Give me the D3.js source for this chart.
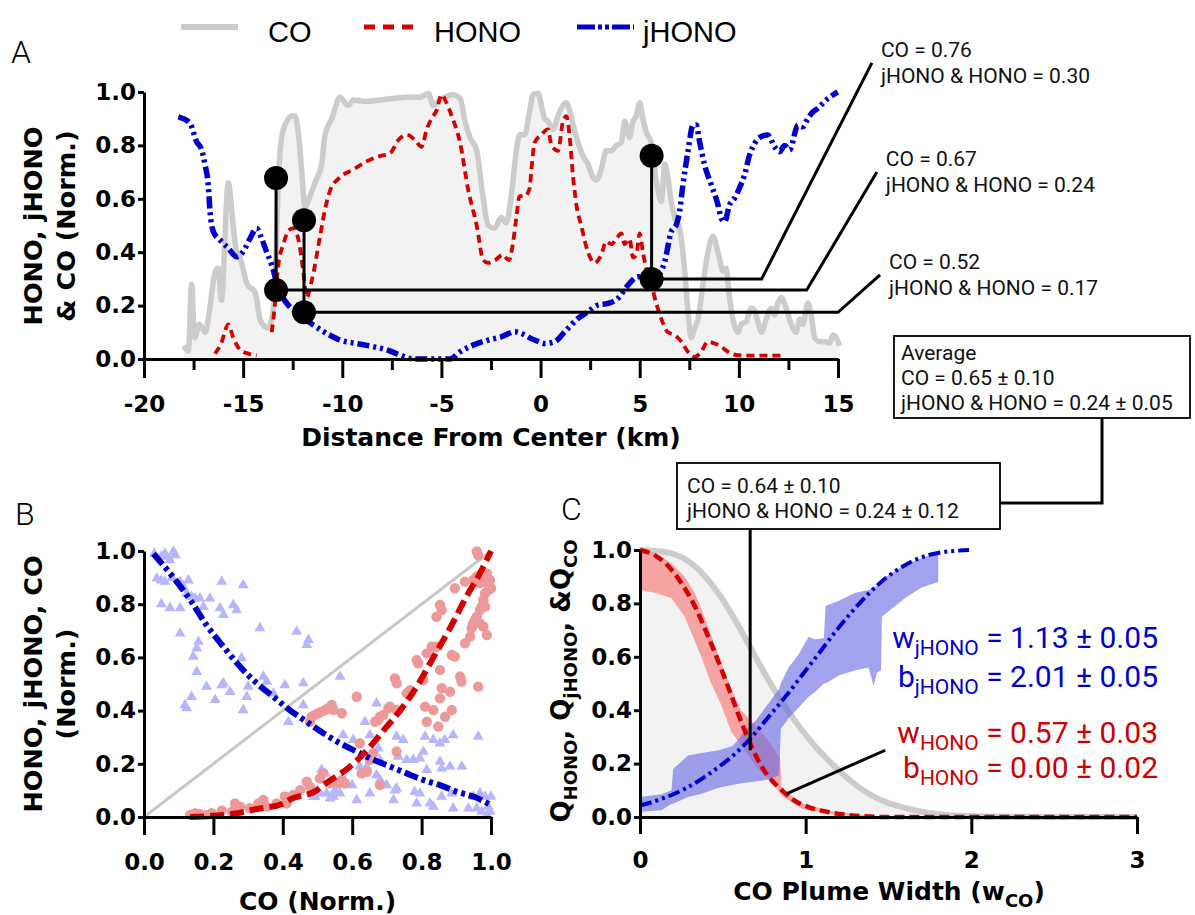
<!DOCTYPE html>
<html>
<head>
<meta charset="utf-8">
<script src="https://cdn.jsdelivr.net/npm/d3@7"></script>
<style>
  body { margin: 0; background: #fff; }
  svg { display: block; }
</style>
</head>
<body>
<svg id="fig" width="1195" height="915"></svg>
<script>
// ---- Panel A: transect (km, normalised value) ----
const coA = [[-18.0,0.05],[-17.76,0.03],[-17.6,0.28],[-17.45,0.08],[-17.2,0.13],[-16.9,0.10],[-16.7,0.18],[-16.4,0.33],[-16.25,0.34],[-16.1,0.22],[-15.75,0.66],[-15.5,0.50],[-15.33,0.40],[-15.16,0.38],[-14.8,0.28],[-14.4,0.25],[-14.15,0.15],[-13.9,0.12],[-13.73,0.115],[-13.56,0.15],[-13.39,0.28],[-13.23,0.65],[-13.06,0.83],[-12.8,0.89],[-12.55,0.91],[-12.38,0.91],[-12.22,0.85],[-12.05,0.71],[-11.88,0.57],[-11.63,0.61],[-11.38,0.66],[-11.04,0.73],[-10.87,0.84],[-10.53,0.90],[-10.12,0.98],[-9.7,0.95],[-9.44,0.97],[-8.77,0.965],[-8.1,0.97],[-7.43,0.976],[-6.75,0.98],[-6.08,0.98],[-5.66,0.995],[-5.41,0.95],[-5.07,0.97],[-4.4,0.99],[-4.06,0.976],[-3.81,0.89],[-3.56,0.83],[-3.22,0.78],[-2.89,0.60],[-2.64,0.50],[-2.32,0.49],[-1.98,0.53],[-1.73,0.51],[-1.48,0.61],[-1.22,0.78],[-1.06,0.84],[-0.8,0.84],[-0.55,0.93],[-0.38,0.99],[-0.13,0.995],[0.04,0.95],[0.21,0.90],[0.37,0.89],[0.63,0.86],[0.88,0.91],[1.13,0.95],[1.3,0.96],[1.47,0.93],[1.63,0.88],[1.89,0.81],[2.14,0.76],[2.39,0.73],[2.64,0.68],[2.81,0.67],[3.06,0.71],[3.31,0.78],[3.57,0.78],[3.82,0.80],[4.07,0.81],[4.24,0.89],[4.49,0.83],[4.66,0.89],[4.83,0.91],[5.0,0.96],[5.16,0.90],[5.33,0.85],[5.58,0.81],[5.75,0.71],[5.92,0.63],[6.09,0.59],[6.26,0.73],[6.42,0.68],[6.59,0.59],[6.76,0.53],[7.01,0.49],[7.27,0.33],[7.43,0.18],[7.6,0.08],[7.77,0.115],[7.94,0.15],[8.19,0.28],[8.44,0.40],[8.69,0.46],[8.95,0.40],[9.2,0.33],[9.36,0.34],[9.53,0.23],[9.7,0.15],[9.95,0.10],[10.12,0.13],[10.37,0.14],[10.63,0.19],[10.8,0.18],[10.96,0.14],[11.13,0.10],[11.38,0.15],[11.63,0.19],[11.8,0.165],[11.97,0.21],[12.14,0.23],[12.39,0.19],[12.64,0.13],[12.89,0.10],[13.07,0.15],[13.23,0.13],[13.48,0.21],[13.65,0.165],[13.82,0.08],[14.07,0.065],[14.33,0.065],[14.58,0.06],[14.74,0.09],[14.91,0.08],[15.08,0.05]];

// null marks the data gap
const honoA = [[-16.42,0.02],[-16.1,0.06],[-15.75,0.13],[-15.5,0.08],[-15.16,0.035],[-14.74,0.02],[-14.32,0.013],null,[-13.56,0.10],[-13.39,0.21],[-13.23,0.35],[-12.97,0.43],[-12.72,0.48],[-12.47,0.49],[-12.22,0.45],[-11.97,0.33],[-11.8,0.23],[-11.55,0.29],[-11.12,0.46],[-10.87,0.56],[-10.62,0.63],[-10.12,0.68],[-9.44,0.71],[-8.77,0.74],[-8.1,0.76],[-7.6,0.77],[-7.17,0.82],[-6.75,0.84],[-6.33,0.82],[-6.0,0.795],[-5.74,0.86],[-5.5,0.90],[-5.25,0.93],[-4.99,0.99],[-4.75,0.96],[-4.48,0.91],[-4.06,0.81],[-3.64,0.63],[-3.22,0.50],[-2.89,0.37],[-2.65,0.36],[-2.3,0.37],[-1.9,0.39],[-1.6,0.37],[-1.4,0.43],[-1.22,0.53],[-1.06,0.61],[-0.8,0.61],[-0.55,0.64],[-0.46,0.71],[-0.3,0.81],[0.04,0.84],[0.37,0.86],[0.55,0.80],[0.88,0.78],[1.13,0.89],[1.30,0.91],[1.47,0.83],[1.63,0.69],[1.8,0.58],[2.05,0.50],[2.39,0.40],[2.73,0.36],[3.06,0.39],[3.31,0.44],[3.57,0.43],[3.82,0.45],[4.07,0.47],[4.24,0.43],[4.49,0.45],[4.66,0.38],[4.83,0.39],[5.0,0.47],[5.16,0.40],[5.33,0.34],[5.58,0.28],[5.83,0.21],[6.09,0.15],[6.42,0.10],[6.76,0.09],[7.1,0.065],[7.43,0.027],[7.77,0.008],[8.1,0.027],[8.44,0.065],[8.78,0.058],[9.11,0.046],[9.45,0.027],[9.87,0.015],[10.46,0.013],[11.13,0.013],[12.14,0.013]];

const jhonoA = [[-18.27,0.907],[-17.68,0.883],[-17.35,0.814],[-17.09,0.783],[-16.92,0.727],[-16.76,0.652],[-16.67,0.552],[-16.5,0.477],[-16.17,0.446],[-15.75,0.415],[-15.33,0.383],[-15.0,0.402],[-14.65,0.452],[-14.32,0.489],[-14.07,0.452],[-13.81,0.40],[-13.56,0.352],[-13.31,0.289],[-12.97,0.227],[-12.64,0.195],[-12.13,0.164],[-11.46,0.127],[-10.79,0.096],[-10.12,0.071],[-9.28,0.058],[-8.44,0.046],[-7.76,0.034],[-7.09,0.015],[-6.42,0],[-5.41,0],[-4.57,0],[-4.06,0.027],[-3.4,0.052],[-2.64,0.071],[-1.98,0.083],[-1.3,0.102],[-0.3,0.071],[0.21,0.058],[0.71,0.065],[1.22,0.102],[1.89,0.152],[2.39,0.177],[2.89,0.202],[3.4,0.208],[3.9,0.227],[4.41,0.277],[4.91,0.308],[5.42,0.302],[5.92,0.314],[6.26,0.364],[6.59,0.477],[6.84,0.502],[7.01,0.552],[7.18,0.652],[7.43,0.776],[7.69,0.876],[7.85,0.876],[8.02,0.814],[8.27,0.727],[8.61,0.652],[8.95,0.577],[9.11,0.527],[9.28,0.514],[9.53,0.577],[9.78,0.602],[10.03,0.64],[10.29,0.69],[10.54,0.764],[10.8,0.808],[11.13,0.833],[11.46,0.839],[11.8,0.795],[12.05,0.776],[12.31,0.80],[12.56,0.783],[12.98,0.876],[13.23,0.870],[13.48,0.901],[13.74,0.926],[13.99,0.939],[14.24,0.958],[14.5,0.976],[14.74,0.989],[14.99,1.0]];

// sampled points: km, CO value, jHONO & HONO value
const sampleKm = [-13.34, -11.93, 5.6];
const sampleCO = [0.678, 0.52, 0.761];
const sampleJ = [0.258, 0.175, 0.30];

// callouts, top to bottom: which sample, bend km, end of leader (km, value)
const calloutSample = [2, 0, 1];
const calloutBend = [11.15, 13.42, 15.0];
const calloutEnd = [[16.71, 1.109], [16.96, 0.70], [17.12, 0.315]];
const calloutCO = ["0.76", "0.67", "0.52"];
const calloutJ = ["0.30", "0.24", "0.17"];

const avgLines = ["Average", "CO = 0.65 \u00b1 0.10", "jHONO & HONO = 0.24 \u00b1 0.05"];
const fitLines = ["CO = 0.64 \u00b1 0.10", "jHONO & HONO = 0.24 \u00b1 0.12"];

// ---- Panel B: scatter vs CO ----
const jhonoPts = [[0.03,0.99],[0.05,0.98],[0.06,0.99],[0.065,0.98],[0.075,0.966],[0.085,0.998],[0.09,0.985],[0.037,0.897],[0.05,0.89],[0.06,0.885],[0.08,0.90],[0.104,0.885],[0.128,0.89],[0.113,0.866],[0.123,0.84],[0.137,0.828],[0.147,0.822],[0.161,0.822],[0.19,0.822],[0.05,0.80],[0.075,0.785],[0.104,0.785],[0.171,0.79],[0.224,0.885],[0.286,0.872],[0.219,0.785],[0.229,0.76],[0.257,0.797],[0.267,0.778],[0.104,0.69],[0.334,0.71],[0.44,0.697],[0.474,0.666],[0.469,0.647],[0.157,0.659],[0.152,0.634],[0.142,0.603],[0.281,0.597],[0.152,0.546],[0.18,0.49],[0.224,0.496],[0.248,0.471],[0.137,0.452],[0.118,0.421],[0.123,0.409],[0.205,0.44],[0.296,0.452],[0.344,0.528],[0.354,0.509],[0.30,0.49],[0.406,0.496],[0.459,0.503],[0.565,0.528],[0.416,0.358],[0.459,0.421],[0.373,0.465],[0.286,0.402],[0.229,0.503],[0.488,0.077],[0.507,0.089],[0.522,0.164],[0.512,0.177],[0.526,0.089],[0.546,0.077],[0.565,0.089],[0.613,0.064],[0.574,0.308],[0.603,0.29],[0.637,0.358],[0.651,0.308],[0.67,0.427],[0.675,0.258],[0.622,0.19],[0.661,0.24],[0.68,0.215],[0.699,0.12],[0.728,0.302],[0.747,0.29],[0.733,0.227],[0.757,0.215],[0.776,0.215],[0.795,0.221],[0.805,0.246],[0.81,0.302],[0.834,0.29],[0.853,0.277],[0.867,0.29],[0.891,0.308],[0.963,0.302],[0.815,0.177],[0.853,0.208],[0.858,0.183],[0.882,0.19],[0.916,0.19],[0.728,0.108],[0.786,0.051],[0.795,0.089],[0.824,0.051],[0.834,0.039],[0.858,0.077],[0.891,0.033],[0.949,0.077],[0.968,0.089],[0.983,0.077],[0.992,0.039],[0.997,0.02],[0.988,0.008],[0.973,0.02],[0.959,0.033],[1.0,0.077],[0.935,0.033],[0.887,0.089],[0.719,0.064],[0.651,0.089],[0.67,0.158],[0.493,0.076],[0.536,0.07],[0.642,0.189],[0.68,0.14],[0.723,0.10],[0.78,0.095],[0.5,0.1],[0.55,0.1],[0.6,0.12]];

const honoPts = [[0.133,0.008],[0.147,0.014],[0.161,0.011],[0.18,0.008],[0.195,0.014],[0.224,0.024],[0.253,0.02],[0.262,0.051],[0.277,0.039],[0.305,0.033],[0.33,0.051],[0.344,0.064],[0.354,0.039],[0.382,0.051],[0.406,0.077],[0.411,0.051],[0.43,0.083],[0.45,0.101],[0.469,0.133],[0.478,0.114],[0.507,0.145],[0.517,0.164],[0.536,0.127],[0.56,0.127],[0.57,0.139],[0.579,0.127],[0.613,0.452],[0.483,0.377],[0.493,0.384],[0.502,0.39],[0.512,0.396],[0.522,0.402],[0.531,0.409],[0.541,0.421],[0.57,0.39],[0.478,0.358],[0.546,0.402],[0.627,0.164],[0.642,0.17],[0.651,0.215],[0.661,0.24],[0.666,0.358],[0.675,0.365],[0.68,0.377],[0.69,0.384],[0.704,0.409],[0.709,0.415],[0.723,0.521],[0.728,0.503],[0.728,0.402],[0.757,0.465],[0.767,0.477],[0.786,0.59],[0.79,0.578],[0.805,0.515],[0.81,0.415],[0.815,0.358],[0.815,0.615],[0.829,0.64],[0.834,0.402],[0.843,0.64],[0.848,0.34],[0.853,0.446],[0.858,0.484],[0.868,0.377],[0.882,0.471],[0.887,0.402],[0.887,0.609],[0.896,0.603],[0.896,0.86],[0.911,0.528],[0.915,0.509],[0.925,0.885],[0.925,0.653],[0.94,0.678],[0.944,0.709],[0.949,0.728],[0.954,0.741],[0.959,0.753],[0.963,0.49],[0.968,0.778],[0.973,0.791],[0.978,0.816],[0.983,0.841],[0.988,0.879],[0.992,0.853],[0.997,0.891],[1.0,0.86],[0.968,0.879],[0.959,0.904],[0.949,0.891],[0.959,0.998],[0.963,0.985],[0.988,0.684],[0.978,0.716],[0.968,0.728],[0.983,0.791],[0.853,0.797],[0.858,0.778],[0.843,0.753],[0.853,0.553],[0.728,0.246],[0.622,0.277],[0.68,0.12],[0.983,0.904],[0.988,0.916]];

const honoFitB = [[0.133,0.0],[0.257,0.012],[0.325,0.03],[0.401,0.05],[0.42,0.065],[0.497,0.10],[0.517,0.12],[0.594,0.19],[0.642,0.25],[0.69,0.325],[0.738,0.40],[0.786,0.49],[0.834,0.60],[0.882,0.71],[0.93,0.83],[0.968,0.916],[1.0,1.0]];
const jhonoFitB = [[0.027,0.99],[0.085,0.90],[0.133,0.816],[0.18,0.722],[0.229,0.64],[0.277,0.565],[0.325,0.503],[0.373,0.452],[0.42,0.402],[0.469,0.358],[0.517,0.315],[0.565,0.277],[0.613,0.246],[0.661,0.215],[0.709,0.19],[0.757,0.164],[0.805,0.139],[0.853,0.12],[0.901,0.095],[0.949,0.077],[1.0,0.045]];
const oneToOne = [[0, 0], [1, 1]];

// ---- Panel C: plume-width profiles ----
const coC = [[0,1.0],[0.17,0.99],[0.33,0.94],[0.474,0.837],[0.575,0.737],[0.675,0.625],[0.776,0.512],[0.877,0.412],[0.978,0.325],[1.079,0.25],[1.18,0.187],[1.28,0.131],[1.381,0.087],[1.482,0.056],[1.583,0.037],[1.684,0.022],[1.784,0.012],[1.885,0.006],[2.1,0.002],[2.5,0],[3,0]];
const honoC = [[0,1.0],[0.09,0.98],[0.17,0.94],[0.252,0.874],[0.333,0.787],[0.413,0.674],[0.494,0.549],[0.555,0.449],[0.615,0.35],[0.675,0.262],[0.736,0.187],[0.796,0.137],[0.857,0.10],[0.917,0.068],[1.018,0.037],[1.139,0.018],[1.28,0.006],[1.482,0],[3,0]];
const jhonoC = [[0,0.043],[0.131,0.068],[0.272,0.106],[0.373,0.143],[0.474,0.187],[0.575,0.237],[0.675,0.30],[0.776,0.375],[0.877,0.45],[0.978,0.531],[1.079,0.612],[1.18,0.694],[1.28,0.769],[1.381,0.837],[1.482,0.894],[1.583,0.937],[1.684,0.969],[1.784,0.987],[1.986,1.0]];
// band rows: x, low, high
const honoBand = [[0,0.85,1.0],[0.09,0.84,0.99],[0.19,0.82,0.95],[0.27,0.75,0.90],[0.33,0.66,0.84],[0.37,0.60,0.78],[0.43,0.50,0.68],[0.49,0.42,0.58],[0.55,0.32,0.48],[0.61,0.27,0.40],[0.70,0.19,0.34],[0.78,0.14,0.28],[0.845,0.09,0.22],[0.855,0.08,0.11],[0.98,0.03,0.05],[1.18,0.009,0.019],[1.38,0,0.005]];
const jhonoBand = [[0,0.02,0.075],[0.13,0.025,0.085],[0.19,0.05,0.10],[0.2,0.05,0.18],[0.29,0.075,0.23],[0.373,0.087,0.24],[0.474,0.11,0.25],[0.555,0.12,0.265],[0.595,0.125,0.29],[0.635,0.128,0.325],[0.696,0.133,0.36],[0.776,0.14,0.425],[0.84,0.156,0.48],[0.85,0.33,0.50],[0.897,0.37,0.56],[0.958,0.41,0.61],[1.018,0.45,0.675],[1.059,0.47,0.665],[1.11,0.50,0.67],[1.12,0.50,0.79],[1.2,0.53,0.81],[1.3,0.55,0.84],[1.38,0.56,0.85],[1.41,0.49,0.86],[1.43,0.54,0.865],[1.455,0.55,0.87],[1.46,0.75,0.89],[1.6,0.82,0.945],[1.7,0.86,0.97],[1.8,0.88,0.99]];
const fitPointerX = 0.665, fitPointerY = 0.25;
const honoPointer = [[1.48, 0.25], [0.887, 0.088]];
const fitParams = [
  { sym: "w", sub: "jHONO", val: " = 1.13 \u00b1 0.05", series: "jhono" },
  { sym: "b", sub: "jHONO", val: " = 2.01 \u00b1 0.05", series: "jhono" },
  { sym: "w", sub: "HONO", val: " = 0.57 \u00b1 0.03", series: "hono" },
  { sym: "b", sub: "HONO", val: " = 0.00 \u00b1 0.02", series: "hono" },
];

// ticks
const ticksA = [-20, -15, -10, -5, 0, 5, 10, 15];
const minorA = [-17.5, -12.5, -7.5, -2.5, 2.5, 7.5, 12.5];
const ticksUnit = [0, 0.2, 0.4, 0.6, 0.8, 1.0];
const ticksC = [0, 1, 2, 3];

const legendItems = [
  { label: "CO", series: "co" },
  { label: "HONO", series: "hono" },
  { label: "jHONO", series: "jhono" },
];

// ---- styles ----
const COLORS = { co: "#cccccc", hono: "#d40000", jhono: "#0000cc", fill: "#f2f2f2",
  honoPt: "#ee9999", jhonoPt: "#b6b6fc", honoBand: "#f76e6e", jhonoBand: "#6464e4", txtRed: "#cc0000" };
const BOLD = "DejaVu Sans";
const SANS = "Roboto";
const NOTE_SIZE = 21;

const svg = d3.select("#fig");

function styleAxis(g) {
  g.select(".domain").attr("stroke", "#000").attr("stroke-width", 3);
  g.selectAll(".tick line").attr("stroke", "#000").attr("stroke-width", 3);
  g.selectAll(".tick text")
    .attr("font-family", BOLD).attr("font-weight", "bold")
    .attr("font-size", 23).attr("fill", "#000");
}

function rotTitle(x, y, text, size) {
  return svg.append("text")
    .attr("transform", `translate(${x},${y}) rotate(-90)`)
    .attr("text-anchor", "middle")
    .attr("font-family", BOLD).attr("font-weight", "bold")
    .attr("font-size", size || 25).text(text);
}

function panelLetter(x, y, t) {
  svg.append("text").attr("x", x).attr("y", y)
    .attr("font-family", SANS).attr("font-weight", 300)
    .attr("font-size", 32).text(t);
}

// ================= Panel A =================
const xA = d3.scaleLinear().domain([-20, 15]).range([144, 838]);
const yA = d3.scaleLinear().domain([0, 1]).range([359, 92]);

const lineA = d3.line().defined(d => d !== null)
  .x(d => xA(d[0])).y(d => yA(d[1])).curve(d3.curveMonotoneX);

svg.append("path").datum(coA)
  .attr("d", d3.area().x(d => xA(d[0])).y0(yA(0)).y1(d => yA(d[1])).curve(d3.curveMonotoneX))
  .attr("fill", COLORS.fill);
svg.append("path").datum(coA).attr("d", lineA)
  .attr("fill", "none").attr("stroke", COLORS.co).attr("stroke-width", 5.5);
svg.append("path").datum(honoA).attr("d", lineA)
  .attr("fill", "none").attr("stroke", COLORS.hono).attr("stroke-width", 3.8)
  .attr("stroke-dasharray", "8,5");
svg.append("path").datum(jhonoA).attr("d", lineA)
  .attr("fill", "none").attr("stroke", COLORS.jhono).attr("stroke-width", 5.5)
  .attr("stroke-dasharray", "12,4,3,4,3,4");

// axes A
const axAy = svg.append("g").attr("transform", `translate(${xA(-20)},0)`)
  .call(d3.axisLeft(yA).tickValues(ticksUnit).tickFormat(d3.format(".1f"))
    .tickSize(6).tickSizeOuter(0).tickPadding(2));
styleAxis(axAy);
const axAxMinor = svg.append("g").attr("transform", `translate(0,${yA(0)})`)
  .call(d3.axisBottom(xA).tickValues(minorA).tickFormat("").tickSize(11).tickSizeOuter(0));
styleAxis(axAxMinor);
const axAx = svg.append("g").attr("transform", `translate(0,${yA(0)})`)
  .call(d3.axisBottom(xA).tickValues(ticksA).tickFormat(d => String(d))
    .tickSize(19).tickSizeOuter(0).tickPadding(18));
styleAxis(axAx);

svg.append("text").attr("x", (xA(-20) + xA(15)) / 2).attr("y", 446)
  .attr("text-anchor", "middle").attr("font-family", BOLD).attr("font-weight", "bold")
  .attr("font-size", 25).text("Distance From Center (km)");
rotTitle(42, 226, "HONO, jHONO", 25.5);
rotTitle(75, 226, "& CO (Norm.)", 25.5);

// callout leaders
calloutSample.forEach((s, i) => {
  const pts = [[xA(sampleKm[s]), yA(sampleJ[s])], [xA(calloutBend[i]), yA(sampleJ[s])],
    [xA(calloutEnd[i][0]), yA(calloutEnd[i][1])]];
  svg.append("path").attr("d", d3.line()(pts))
    .attr("fill", "none").attr("stroke", "#000").attr("stroke-width", 3);
  const tx = xA(calloutEnd[i][0]) + 9, ty = yA(calloutEnd[i][1]) - 6;
  const t = svg.append("text").attr("font-family", SANS).attr("font-size", NOTE_SIZE).attr("fill", "#111");
  t.append("tspan").attr("x", tx).attr("y", ty).text("CO = " + calloutCO[i]);
  t.append("tspan").attr("x", tx).attr("y", ty + 26).text("jHONO & HONO = " + calloutJ[i]);
});

// sample stems and dots
sampleKm.forEach((km, i) => {
  svg.append("line").attr("x1", xA(km)).attr("x2", xA(km))
    .attr("y1", yA(sampleCO[i])).attr("y2", yA(sampleJ[i]))
    .attr("stroke", "#000").attr("stroke-width", 3);
  [sampleCO[i], sampleJ[i]].forEach(v => {
    svg.append("circle").attr("cx", xA(km)).attr("cy", yA(v)).attr("r", 12).attr("fill", "#000");
  });
});

// legend
const legendX = [181, 364, 577];
const legendTextX = [268, 434, 643];
legendItems.forEach((d, i) => {
  const ln = svg.append("line").attr("x1", legendX[i]).attr("x2", legendX[i] + 57)
    .attr("y1", 27).attr("y2", 27).attr("stroke", COLORS[d.series]);
  if (d.series === "co") ln.attr("stroke-width", 6);
  if (d.series === "hono") ln.attr("stroke-width", 5).attr("stroke-dasharray", "11,8");
  if (d.series === "jhono") ln.attr("stroke-width", 5).attr("stroke-dasharray", "18,3,4,3,4,3");
  svg.append("text").attr("x", legendTextX[i]).attr("y", 42)
    .attr("font-family", "Liberation Sans").attr("font-size", 29).text(d.label);
});

panelLetter(11, 63, "A");

// boxed notes
function textBox(x, y, w, h, lines, tx, ty0, step) {
  svg.append("rect").attr("x", x).attr("y", y).attr("width", w).attr("height", h)
    .attr("fill", "#fff").attr("stroke", "#000").attr("stroke-width", 1.8);
  const t = svg.append("text").attr("font-family", SANS).attr("font-size", NOTE_SIZE).attr("fill", "#111");
  lines.forEach((l, i) => t.append("tspan").attr("x", tx).attr("y", ty0 + i * step).text(l));
}

// connector between boxes
svg.append("path").attr("d", d3.line()([[1102, 418], [1102, 503], [1000, 503]]))
  .attr("fill", "none").attr("stroke", "#000").attr("stroke-width", 3);
textBox(894, 336, 296, 82, avgLines, 901, 360, 25);

// ================= Panel B =================
const xB = d3.scaleLinear().domain([0, 1]).range([144, 491]);
const yB = d3.scaleLinear().domain([0, 1]).range([817, 551]);
const lineB = d3.line().x(d => xB(d[0])).y(d => yB(d[1])).curve(d3.curveMonotoneX);

svg.append("path").datum(oneToOne).attr("d", lineB)
  .attr("stroke", "#c8c8c8").attr("stroke-width", 3).attr("fill", "none");
svg.append("g").selectAll("path").data(jhonoPts).join("path")
  .attr("transform", d => `translate(${xB(d[0])},${yB(d[1])})`)
  .attr("d", d3.symbol(d3.symbolTriangle, 52))
  .attr("fill", COLORS.jhonoPt);
svg.append("g").selectAll("circle").data(honoPts).join("circle")
  .attr("cx", d => xB(d[0])).attr("cy", d => yB(d[1])).attr("r", 5.2)
  .attr("fill", COLORS.honoPt);
svg.append("path").datum(jhonoFitB).attr("d", lineB)
  .attr("fill", "none").attr("stroke", COLORS.jhono).attr("stroke-width", 6)
  .attr("stroke-dasharray", "14,4,4,4,4,4");
svg.append("path").datum(honoFitB).attr("d", lineB)
  .attr("fill", "none").attr("stroke", COLORS.hono).attr("stroke-width", 6)
  .attr("stroke-dasharray", "14,6");

const axBy = svg.append("g").attr("transform", `translate(${xB(0)},0)`)
  .call(d3.axisLeft(yB).tickValues(ticksUnit).tickFormat(d3.format(".1f"))
    .tickSize(6).tickSizeOuter(0).tickPadding(2));
styleAxis(axBy);
const axBx = svg.append("g").attr("transform", `translate(0,${yB(0)})`)
  .call(d3.axisBottom(xB).tickValues(ticksUnit).tickFormat(d3.format(".1f"))
    .tickSize(18).tickSizeOuter(0).tickPadding(19));
styleAxis(axBx);

svg.append("text").attr("x", (xB(0) + xB(1)) / 2).attr("y", 910)
  .attr("text-anchor", "middle").attr("font-family", BOLD).attr("font-weight", "bold")
  .attr("font-size", 25).text("CO (Norm.)");
rotTitle(42, 684, "HONO, jHONO, CO", 25.5);
rotTitle(75, 684, "(Norm.)", 25.5);
panelLetter(15, 525, "B");

// ================= Panel C =================
const xC = d3.scaleLinear().domain([0, 3]).range([640, 1137]);
const yC = d3.scaleLinear().domain([0, 1]).range([817, 550]);
const lineC = d3.line().x(d => xC(d[0])).y(d => yC(d[1])).curve(d3.curveMonotoneX);
const bandC = d3.area().x(d => xC(d[0])).y0(d => yC(d[1])).y1(d => yC(d[2]));

svg.append("path").datum(coC)
  .attr("d", d3.area().x(d => xC(d[0])).y0(yC(0)).y1(d => yC(d[1])).curve(d3.curveMonotoneX))
  .attr("fill", COLORS.fill);
svg.append("rect").attr("x", xC(0)).attr("y", yC(0.004)).attr("width", xC(3) - xC(0))
  .attr("height", yC(0) - yC(0.004)).attr("fill", COLORS.fill);
svg.append("path").datum(coC).attr("d", lineC)
  .attr("fill", "none").attr("stroke", COLORS.co).attr("stroke-width", 6);
svg.append("path").datum(honoBand).attr("d", bandC)
  .attr("fill", COLORS.honoBand).attr("fill-opacity", 0.6);
svg.append("path").datum(jhonoBand).attr("d", bandC)
  .attr("fill", COLORS.jhonoBand).attr("fill-opacity", 0.6);
svg.append("path").datum(honoC).attr("d", lineC)
  .attr("fill", "none").attr("stroke", COLORS.hono).attr("stroke-width", 4.5)
  .attr("stroke-dasharray", "10,5");
svg.append("path").datum(jhonoC).attr("d", lineC)
  .attr("fill", "none").attr("stroke", COLORS.jhono).attr("stroke-width", 4)
  .attr("stroke-dasharray", "12,4,3,4,3,4");

const axCy = svg.append("g").attr("transform", `translate(${xC(0)},0)`)
  .call(d3.axisLeft(yC).tickValues(ticksUnit).tickFormat(d3.format(".1f"))
    .tickSize(6).tickSizeOuter(0).tickPadding(2));
styleAxis(axCy);
const axCx = svg.append("g").attr("transform", `translate(0,${yC(0)})`)
  .call(d3.axisBottom(xC).tickValues(ticksC).tickFormat(d => String(d))
    .tickSize(17).tickSizeOuter(0).tickPadding(18));
styleAxis(axCx);

// x title with subscript
const ctx = svg.append("text").attr("x", 889).attr("y", 900).attr("text-anchor", "middle")
  .attr("font-family", BOLD).attr("font-weight", "bold").attr("font-size", 25);
ctx.append("tspan").text("CO Plume Width (w");
ctx.append("tspan").attr("font-size", 18).attr("dy", 7).text("CO");
ctx.append("tspan").attr("dy", -7).text(")");

// y title with subscripts
const cty = svg.append("text").attr("transform", "translate(570,681) rotate(-90)")
  .attr("text-anchor", "middle").attr("font-family", BOLD).attr("font-weight", "bold")
  .attr("font-size", 26);
[["Q", "HONO", ", "], ["Q", "jHONO", ", &"], ["Q", "CO", ""]].forEach(p => {
  cty.append("tspan").text(p[0]);
  cty.append("tspan").attr("font-size", 18).attr("dy", 7).text(p[1]);
  if (p[2]) cty.append("tspan").attr("dy", -7).text(p[2]);
});

// pointers
svg.append("line").attr("x1", xC(fitPointerX)).attr("x2", xC(fitPointerX))
  .attr("y1", 529).attr("y2", yC(fitPointerY))
  .attr("stroke", "#000").attr("stroke-width", 3);
svg.append("path").attr("d", d3.line().x(d => xC(d[0])).y(d => yC(d[1]))(honoPointer))
  .attr("fill", "none").attr("stroke", "#000").attr("stroke-width", 3);

textBox(677, 463, 323, 66, fitLines, 687, 493, 25);

// fit parameter text
const paramY = [648, 687, 743, 778];
fitParams.forEach((p, i) => {
  const col = p.series === "hono" ? COLORS.txtRed : COLORS.jhono;
  const t = svg.append("text").attr("x", 1158).attr("y", paramY[i]).attr("text-anchor", "end")
    .attr("font-family", SANS).attr("font-size", 30).attr("fill", col);
  t.append("tspan").text(p.sym);
  t.append("tspan").attr("font-size", 21).attr("dy", 7).text(p.sub);
  t.append("tspan").attr("dy", -7).text(p.val);
});

panelLetter(561, 520, "C");
</script>
</body>
</html>
